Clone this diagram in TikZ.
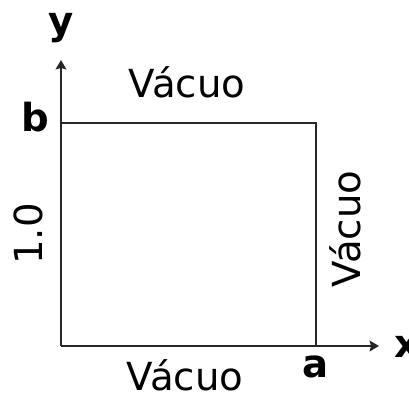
\documentclass[tikz,border=0pt]{standalone}
\usepackage{fontspec}
\setmainfont{DejaVu Sans}
\usetikzlibrary{arrows.meta}
\begin{document}
\begin{tikzpicture}[x=0.75pt,y=-0.75pt,
  axis/.style={draw=black!85,line width=1.9pt,-{Stealth[length=7pt,width=8pt,inset=1pt]}},
  edge/.style={draw=black!85,line width=1.9pt},
  lbl/.style={inner sep=0pt,font=\fontsize{29}{35}\selectfont},
  blbl/.style={inner sep=0pt,font=\fontsize{29}{35}\selectfont\bfseries}]
\useasboundingbox (0,0) rectangle (409,397);
\coordinate (O) at (61,346);
\coordinate (Y) at (61,60);
\coordinate (X) at (379,346);
\coordinate (B) at (61,123);
\coordinate (C) at (316,123);
\coordinate (A) at (316,346);
\draw[axis] (O) -- (Y);
\draw[axis] (O) -- (X);
\draw[edge] (B) -- (C) -- (A);
\node[blbl,anchor=base] (ly) at (61,34) {y};
\node[blbl,anchor=base] (lb) at (35,131) {b};
\node[blbl,anchor=base] (la) at (316,377) {a};
\node[blbl,anchor=base west] (lx) at (394,357) {x};
\node[lbl,anchor=base] (vt) at (187,97) {Vácuo};
\node[lbl,anchor=base] (vb) at (185,390) {Vácuo};
\node[lbl,anchor=base,rotate=90] (vr) at (360,229) {Vácuo};
\node[lbl,rotate=90] (one) at (28.5,234) {1.0};
\end{tikzpicture}
\end{document}
